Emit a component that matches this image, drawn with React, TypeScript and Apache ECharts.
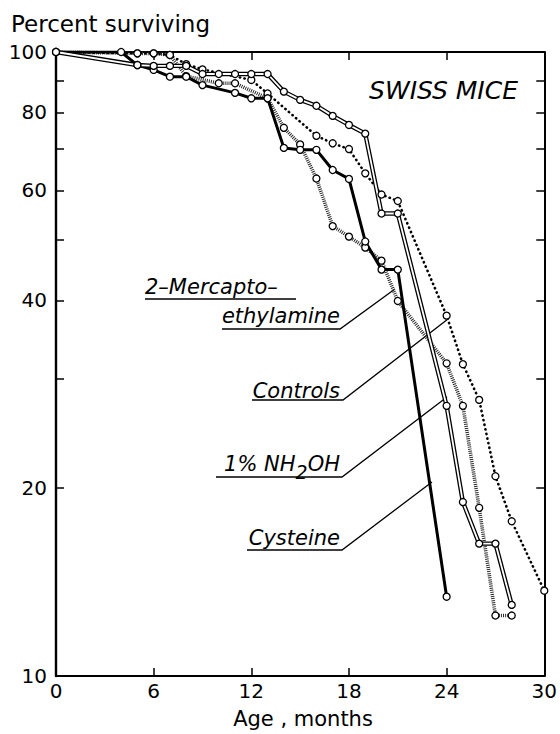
import React, { useEffect, useRef } from 'react';
import * as echarts from 'echarts';

// ---- data (months of age, percent surviving) ----
const Y_TICK_VALUES = [10, 20, 30, 40, 50, 60, 70, 80, 90, 100];
const Y_LABEL_VALUES = [10, 20, 40, 60, 80, 100];

const CONTROLS_MONTHS = [0, 5, 6, 7, 8, 9, 12, 13, 16, 17, 18, 19, 20, 21, 24, 25, 26, 27, 28, 30];
const CONTROLS_PCT = [100, 99.5, 99.5, 98.9, 95.6, 93.8, 90.2, 85.8, 73.4, 71.4, 69.9, 63.9, 59.1, 57.7, 37.8, 31.6, 27.7, 20.9, 17.7, 13.7];

const NH2OH_MONTHS = [0, 5, 6, 7, 8, 9, 10, 11, 12, 13, 14, 15, 16, 17, 18, 19, 20, 21, 24, 25, 26, 27, 28];
const NH2OH_PCT = [100, 95.3, 95.0, 95.0, 95.0, 92.2, 92.2, 92.2, 92.2, 92.2, 86.4, 83.8, 82.0, 79.0, 76.4, 74.0, 55.1, 55.1, 27.1, 19.0, 16.3, 16.3, 13.0];

const CYSTEINE_MONTHS = [0, 4, 5, 6, 7, 8, 9, 11, 12, 13, 14, 15, 16, 17, 18, 19, 20, 21, 24];
const CYSTEINE_PCT = [100, 100, 95.3, 93.6, 91.3, 91.3, 88.5, 86.0, 84.3, 84.3, 70.2, 69.7, 69.7, 64.7, 62.6, 49.7, 44.8, 44.8, 13.4];

const MEA_MONTHS = [0, 5, 6, 7, 8, 10, 11, 13, 14, 15, 16, 17, 18, 19, 20, 21, 24, 25, 26, 27, 28];
const MEA_PCT = [100, 99.5, 99.5, 98.9, 91.5, 89.1, 89.1, 84.3, 75.6, 71.1, 62.7, 52.6, 50.6, 48.6, 46.3, 39.9, 31.7, 27.1, 18.6, 12.5, 12.5];

const FONT = 'DejaVu Sans';

const lg = (v: number) => Math.log10(v);
const toPairs = (months: number[], pct: number[]) => months.map((m, i) => [m, lg(pct[i])]);

function measure(text: string, font: string): number {
  const c = document.createElement('canvas').getContext('2d');
  if (!c) return text.length * 12;
  c.font = font;
  return c.measureText(text).width;
}

export default function App() {
  const ref = useRef<HTMLDivElement>(null);

  useEffect(() => {
    if (!ref.current) return;
    const chart = echarts.init(ref.current, null, { renderer: 'svg' });

    const axisLine = { show: true, onZero: false, lineStyle: { color: '#000', width: 2 } };
    const tick = (custom?: number[]) => ({
      show: true,
      inside: true,
      length: 8,
      lineStyle: { color: '#000', width: 1.5 },
      ...(custom ? { customValues: custom } : {}),
    });
    const circle = {
      symbol: 'circle',
      symbolSize: 7,
      itemStyle: { color: '#fff', borderColor: '#000', borderWidth: 1.3 },
    };

    const itFont = `italic 21px "${FONT}"`;
    const wOH = measure('OH', itFont);
    const w2 = measure('2', `italic 19px "${FONT}"`);

    const txt = (text: string, x: number, y: number, opts: any = {}) => ({
      type: 'text',
      x,
      y,
      silent: true,
      style: {
        text,
        fill: '#000',
        fontFamily: FONT,
        fontSize: 21,
        fontStyle: 'italic',
        align: 'right',
        verticalAlign: 'middle',
        ...opts,
      },
    });
    const leader = (points: number[][]) => ({
      type: 'polyline',
      silent: true,
      shape: { points },
      style: { stroke: '#000', lineWidth: 1.3, fill: 'none' },
    });

    const option: any = {
      animation: false,
      backgroundColor: '#fff',
      grid: { left: 56, right: 7, top: 52, bottom: 58, containLabel: false },
      xAxis: [
        {
          type: 'value',
          min: 0,
          max: 30,
          interval: 6,
          axisLine,
          axisTick: tick(),
          axisLabel: { color: '#000', fontFamily: FONT, fontSize: 20, margin: 5 },
          splitLine: { show: false },
        },
        {
          type: 'value',
          position: 'top',
          min: 0,
          max: 30,
          interval: 6,
          axisLine,
          axisTick: tick(),
          axisLabel: { show: false },
          splitLine: { show: false },
        },
      ],
      yAxis: [
        {
          type: 'value',
          min: 1,
          max: 2,
          axisLine: { ...axisLine, lineStyle: { color: '#000', width: 2.4 } },
          axisTick: tick(Y_TICK_VALUES.map(lg)),
          axisLabel: {
            customValues: Y_LABEL_VALUES.map(lg),
            formatter: (v: number) => String(Math.round(Math.pow(10, v))),
            color: '#000',
            fontFamily: FONT,
            fontSize: 20,
            margin: 9,
          },
          splitLine: { show: false },
        },
        {
          type: 'value',
          position: 'right',
          min: 1,
          max: 2,
          axisLine,
          axisTick: tick(Y_TICK_VALUES.map(lg)),
          axisLabel: { show: false },
          splitLine: { show: false },
        },
      ],
      series: [
        {
          name: '2-Mercaptoethylamine',
          type: 'line',
          data: toPairs(MEA_MONTHS, MEA_PCT),
          lineStyle: { color: '#2a2a2a', width: 3.6, type: [1, 1.1] },
          ...circle,
          silent: true,
        },
        {
          name: 'Controls',
          type: 'line',
          data: toPairs(CONTROLS_MONTHS, CONTROLS_PCT),
          lineStyle: { color: '#000', width: 2.6, type: [0.3, 4.4], cap: 'round' },
          ...circle,
          silent: true,
        },
        {
          name: 'Cysteine',
          type: 'line',
          data: toPairs(CYSTEINE_MONTHS, CYSTEINE_PCT),
          lineStyle: { color: '#000', width: 3 },
          ...circle,
          silent: true,
        },
        {
          name: '1% NH2OH outline',
          type: 'line',
          data: toPairs(NH2OH_MONTHS, NH2OH_PCT),
          lineStyle: { color: '#000', width: 4.4 },
          symbol: 'none',
          silent: true,
        },
        {
          name: '1% NH2OH',
          type: 'line',
          data: toPairs(NH2OH_MONTHS, NH2OH_PCT),
          lineStyle: { color: '#fff', width: 1.8 },
          ...circle,
          silent: true,
        },
      ],
      graphic: [
        txt('Percent surviving', 11, 24, { fontStyle: 'normal', align: 'left', fontSize: 23 }),
        txt('Age , months', 303, 719, { fontStyle: 'normal', align: 'center', fontSize: 21 }),
        txt('SWISS MICE', 518, 90, { align: 'right', fontSize: 25 }),
        txt('2–Mercapto–', 145, 287, { align: 'left' }),
        txt('ethylamine', 340, 316),
        txt('Controls', 340, 391),
        txt('OH', 340, 464),
        txt('2', 340 - wOH, 472, { fontSize: 19 }),
        txt('1% NH', 340 - wOH - w2, 464),
        txt('Cysteine', 340, 538),
        leader([[145, 299], [296, 299]]),
        leader([[222, 329], [340, 329], [395, 289]]),
        leader([[252, 400], [343, 400], [448, 319]]),
        leader([[216, 477], [342, 477], [447, 397]]),
        leader([[247, 550], [342, 550], [432, 482]]),
      ],
    };

    chart.setOption(option);
    return () => chart.dispose();
  }, []);

  return (
    <div
      ref={ref}
      style={{ position: 'fixed', left: 0, top: 0, width: 560, height: 734, background: '#fff' }}
    />
  );
}
